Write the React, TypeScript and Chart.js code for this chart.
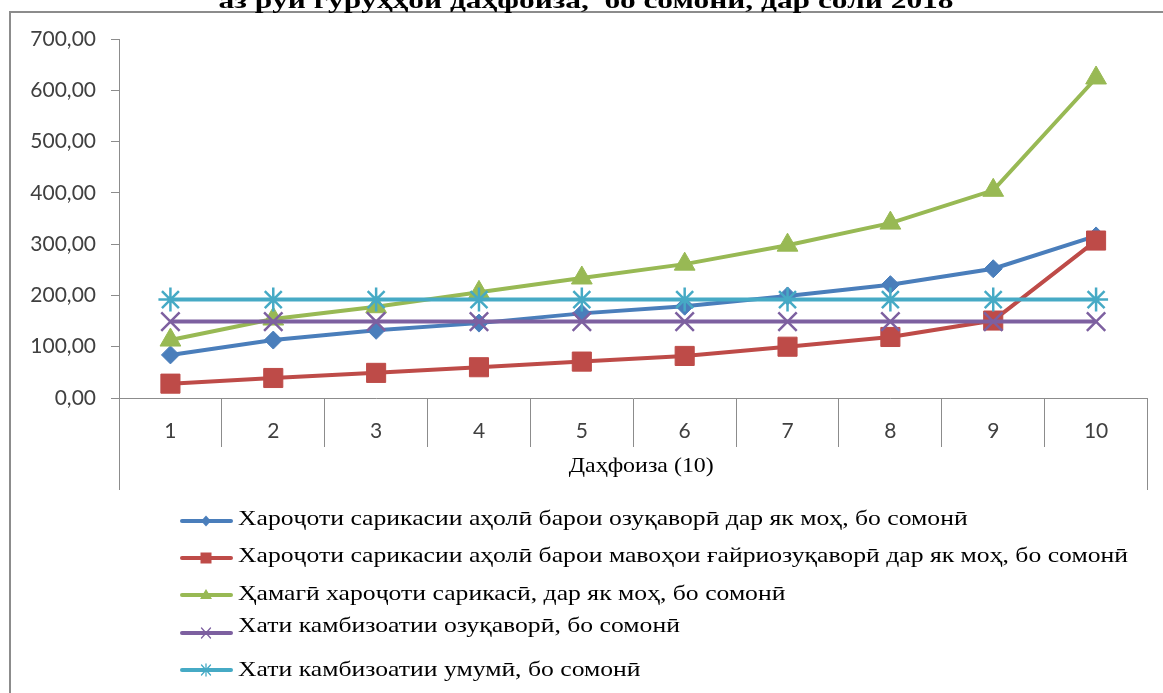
import React, { useEffect, useRef } from 'react';
import { Chart, registerables } from 'chart.js';

Chart.register(...registerables);

// ---------- data ----------
const categories = ['1', '2', '3', '4', '5', '6', '7', '8', '9', '10'];
const foodExpenses = [84, 113, 132, 146, 165, 179, 199, 221, 252, 316];
const nonFoodExpenses = [28, 39, 49, 60, 71, 82, 100, 119, 151, 307];
const totalExpenses = [113, 154, 178, 206, 234, 261, 298, 341, 405, 624];
const foodPovertyLine = [149, 149, 149, 149, 149, 149, 149, 149, 149, 149];
const totalPovertyLine = [192, 192, 192, 192, 192, 192, 192, 192, 192, 192];

const yMin = 0;
const yMax = 700;
const yStep = 100;

const seriesLabels = [
  'Хароҷоти сарикасии аҳолӣ барои озуқаворӣ дар як моҳ, бо сомонӣ',
  'Хароҷоти сарикасии аҳолӣ барои мавоҳои ғайриозуқаворӣ дар як моҳ, бо сомонӣ',
  'Ҳамагӣ хароҷоти сарикасӣ, дар як моҳ, бо сомонӣ',
  'Хати камбизоатии озуқаворӣ, бо сомонӣ',
  'Хати камбизоатии умумӣ, бо сомонӣ',
];
const seriesColors = ['#4A7EBB', '#BE4B48', '#98B954', '#7D60A0', '#46AAC5'];
const seriesMarkers = ['rectRot', 'rect', 'triangle', 'crossRot', 'star'];

const chartTitle = 'аз рӯи гурӯҳҳои даҳфоиза,  бо сомонӣ, дар соли 2018';
const axisTitle = 'Даҳфоиза (10)';

// ---------- styling helpers ----------
const AXIS_GRAY = '#8c8c8c';
const TICK_FONT = { family: 'Lato', size: 21 };

function drawStretched(
  ctx: CanvasRenderingContext2D,
  text: string,
  x: number,
  y: number,
  align: 'left' | 'center',
  sx: number
) {
  const w = ctx.measureText(text).width * sx;
  const left = align === 'center' ? x - w / 2 : x;
  ctx.save();
  ctx.translate(left, y);
  ctx.scale(sx, 1);
  ctx.textAlign = 'left';
  ctx.fillText(text, 0, 0);
  ctx.restore();
}

function drawLegendMarker(ctx: CanvasRenderingContext2D, style: string, x: number, y: number, color: string) {
  ctx.save();
  ctx.fillStyle = color;
  ctx.strokeStyle = color;
  ctx.beginPath();
  if (style === 'rectRot') {
    ctx.moveTo(x, y - 5.5);
    ctx.lineTo(x + 5, y);
    ctx.lineTo(x, y + 5.5);
    ctx.lineTo(x - 5, y);
    ctx.closePath();
    ctx.fill();
  } else if (style === 'rect') {
    ctx.rect(x - 5.5, y - 5.5, 11, 11);
    ctx.fill();
  } else if (style === 'triangle') {
    ctx.moveTo(x, y - 6);
    ctx.lineTo(x + 6, y + 4);
    ctx.lineTo(x - 6, y + 4);
    ctx.closePath();
    ctx.fill();
  } else if (style === 'crossRot') {
    ctx.lineWidth = 1.3;
    ctx.moveTo(x - 4.5, y - 5);
    ctx.lineTo(x + 4.5, y + 5);
    ctx.moveTo(x + 4.5, y - 5);
    ctx.lineTo(x - 4.5, y + 5);
    ctx.stroke();
  } else if (style === 'star') {
    ctx.lineWidth = 1.3;
    ctx.moveTo(x - 4.5, y - 5);
    ctx.lineTo(x + 4.5, y + 5);
    ctx.moveTo(x + 4.5, y - 5);
    ctx.lineTo(x - 4.5, y + 5);
    ctx.moveTo(x, y - 6);
    ctx.lineTo(x, y + 6);
    ctx.stroke();
  }
  ctx.restore();
}

const legendLineY = [521, 558, 595, 633, 670];
const legendTextY = [519, 556, 594, 626, 670];

const decorPlugin = {
  id: 'decor',
  afterDraw(chart: any) {
    const { ctx, chartArea } = chart;
    const W = chart.width;
    const H = chart.height;
    ctx.save();

    // outer frame (top + left edges visible)
    ctx.strokeStyle = AXIS_GRAY;
    ctx.lineWidth = 2;
    ctx.beginPath();
    ctx.moveTo(10, H);
    ctx.lineTo(10, 12);
    ctx.lineTo(W, 12);
    ctx.stroke();

    // clipped title at the very top
    ctx.fillStyle = '#000';
    ctx.font = 'bold 23px "Liberation Serif"';
    ctx.textBaseline = 'alphabetic';
    const tw = ctx.measureText(chartTitle).width;
    drawStretched(ctx, chartTitle, 586, 8, 'center', 735 / tw);

    // category box: outer edges extended down
    const boxBottom = 490;
    ctx.strokeStyle = AXIS_GRAY;
    ctx.lineWidth = 1;
    ctx.beginPath();
    ctx.moveTo(Math.round(chartArea.left) + 0.5, chartArea.bottom);
    ctx.lineTo(Math.round(chartArea.left) + 0.5, boxBottom);
    ctx.moveTo(Math.round(chartArea.right) - 0.5, chartArea.bottom);
    ctx.lineTo(Math.round(chartArea.right) - 0.5, boxBottom);
    ctx.stroke();

    // second-level category label
    ctx.fillStyle = '#000';
    ctx.font = '21px "Liberation Serif"';
    ctx.textBaseline = 'middle';
    const aw = ctx.measureText(axisTitle).width;
    drawStretched(ctx, axisTitle, (chartArea.left + chartArea.right) / 2 + 8, 466, 'center', 145 / aw);

    // legend
    ctx.font = '22px "Liberation Serif"';
    const refW = ctx.measureText(seriesLabels[1]).width;
    const k = 890 / refW;
    chart.data.datasets.forEach((ds: any, i: number) => {
      const y = legendLineY[i];
      ctx.strokeStyle = seriesColors[i];
      ctx.lineWidth = 4;
      ctx.lineCap = 'round';
      ctx.beginPath();
      ctx.moveTo(182, y);
      ctx.lineTo(231, y);
      ctx.stroke();
      drawLegendMarker(ctx, seriesMarkers[i], 206, y, seriesColors[i]);
      ctx.fillStyle = '#000';
      ctx.textBaseline = 'middle';
      drawStretched(ctx, ds.label, 238, legendTextY[i], 'left', k);
    });

    ctx.restore();
  },
};

function makeDataset(i: number, data: number[], radius: number, borderW: number) {
  return {
    label: seriesLabels[i],
    data,
    borderColor: seriesColors[i],
    backgroundColor: seriesColors[i],
    pointBackgroundColor: seriesColors[i],
    pointBorderColor: seriesColors[i],
    pointStyle: seriesMarkers[i],
    pointRadius: radius,
    pointBorderWidth: borderW,
    borderWidth: 4,
    tension: 0,
    order: 5 - i,
  };
}

export default function App() {
  const ref = useRef<HTMLCanvasElement>(null);

  useEffect(() => {
    const chart = new Chart(ref.current as HTMLCanvasElement, {
      type: 'line',
      data: {
        labels: categories,
        datasets: [
          makeDataset(0, foodExpenses, 9, 1),
          makeDataset(1, nonFoodExpenses, 13.5, 1),
          makeDataset(2, totalExpenses, 12, 1),
          makeDataset(3, foodPovertyLine, 13, 2.5),
          makeDataset(4, totalPovertyLine, 12, 2.5),
        ] as any,
      },
      options: {
        responsive: false,
        animation: false,
        devicePixelRatio: 1,
        layout: { padding: { top: 39, right: 14, left: 0, bottom: 0 } },
        plugins: {
          legend: { display: false },
          tooltip: { enabled: false },
          title: { display: false },
        },
        scales: {
          x: {
            type: 'category',
            offset: true,
            grid: {
              offset: true,
              drawOnChartArea: false,
              drawTicks: true,
              tickLength: 49,
              color: AXIS_GRAY,
              lineWidth: 1,
            },
            border: { display: true, color: AXIS_GRAY, width: 1 },
            ticks: {
              color: '#404040',
              font: TICK_FONT,
              padding: -28,
              maxRotation: 0,
              autoSkip: false,
            },
            afterFit: (s: any) => {
              s.height = 295;
            },
          },
          y: {
            min: yMin,
            max: yMax,
            ticks: {
              stepSize: yStep,
              color: '#404040',
              font: TICK_FONT,
              padding: 15,
              callback: (v: any) => Number(v).toFixed(2).replace('.', ','),
            },
            grid: {
              drawOnChartArea: false,
              drawTicks: true,
              tickLength: 8,
              color: AXIS_GRAY,
            },
            border: { display: true, color: AXIS_GRAY, width: 1 },
            afterFit: (s: any) => {
              s.width = 119;
            },
          },
        },
      },
      plugins: [decorPlugin],
    });
    return () => chart.destroy();
  }, []);

  return (
    <div style={{ position: 'fixed', left: 0, top: 0, width: 1163, height: 693, background: '#fff' }}>
      <canvas ref={ref} width={1163} height={693} style={{ display: 'block', width: 1163, height: 693 }} />
    </div>
  );
}
